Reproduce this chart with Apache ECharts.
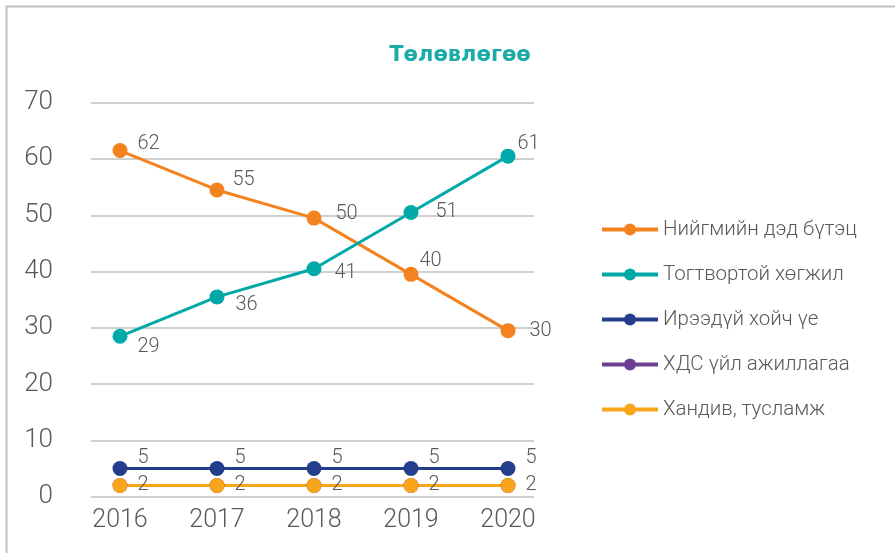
<!DOCTYPE html>
<html>
<head>
<meta charset="utf-8">
<script src="https://cdn.jsdelivr.net/npm/echarts@6/dist/echarts.min.js"></script>
<style>
  html, body { margin: 0; padding: 0; background: #fff; }
  #chart { width: 895px; height: 553px; }
</style>
</head>
<body>
<div id="chart"></div>
<script>
	// өгөгдөл
	var years = ['2016', '2017', '2018', '2019', '2020'];
	var yTicks = [0, 10, 20, 30, 40, 50, 60, 70];
	var seriesNames = ['Нийгмийн дэд бүтэц', 'Тогтвортой хөгжил', 'Ирээдүй хойч үе', 'ХДС үйл ажиллагаа', 'Хандив, тусламж'];
	var niigem = [61.5, 54.5, 49.5, 39.5, 29.5];
	var togtvortoi = [28.5, 35.5, 40.5, 50.5, 60.5];
	var ireedui = [5, 5, 5, 5, 5];
	var hds = [2, 2, 2, 2, 2];
	var handiv = [2, 2, 2, 2, 2];

	var colors = ['#F4821F', '#00A9A8', '#243E8C', '#6B3F91', '#F9A51B'];

	// шошгын байрлал (label offsets)
	var offNiigem = [[5, -7], [3, -10], [9, -4], [-4, -13], [9, 0]];
	var offTogt = [[5, 11], [6, 8], [8, 4], [12, 0], [-3, -12]];
	var offIreedui = [[5, -11], [5, -11], [5, -11], [5, -11], [5, -11]];
	var offHandiv = [[5, 0], [5, 0], [5, 0], [5, 0], [5, 0]];

	function withLabels(values, offsets) {
		var arr = [];
		for (var i = 0; i < values.length; i++) {
			arr.push({
				value: values[i],
				label: { offset: offsets ? offsets[i] : [0, 0] }
			});
		}
		return arr;
	}

	function makeSeries(idx, values, offsets, showLabel) {
		return {
			name: seriesNames[idx],
			type: 'line',
			xAxisIndex: 0,
			yAxisIndex: 0,
			data: withLabels(values, offsets),
			symbol: 'circle',
			symbolSize: 15,
			color: colors[idx],
			lineStyle: { width: 3, color: colors[idx] },
			itemStyle: { color: colors[idx] },
			label: {
				show: showLabel,
				position: 'right',
				distance: 5,
				fontSize: 20,
				fontFamily: 'Roboto',
				fontWeight: 300,
				color: '#595959',
				formatter: function (p) { return Math.round(p.value); }
			},
			emphasis: { disabled: true },
			animation: false
		};
	}

	var chart = echarts.init(document.getElementById('chart'));
	var yMin = yTicks[0];
	var yMax = yTicks[yTicks.length - 1];

	var option = {
		animation: false,
		title: {
			text: 'Төлөвлөгөө',
			left: 455,
			top: 40,
			textAlign: 'center',
			textStyle: {
				color: '#1AABAA',
				fontSize: 21,
				fontWeight: 'bold',
				fontFamily: 'DejaVu Sans'
			}
		},
		legend: {
			orient: 'vertical',
			left: 600,
			top: 219,
			padding: 0,
			itemWidth: 56,
			itemHeight: 15,
			itemGap: 24,
			data: seriesNames,
			lineStyle: { width: 4 },
			textStyle: {
				fontSize: 20.5,
				fontFamily: 'Roboto',
				fontWeight: 300,
				color: '#595959'
			}
		},
		grid: [
			{ left: 71.5, top: 102.7, width: 485, height: 394 },
			{ left: 91, top: 102.7, width: 443, height: 394 }
		],
		xAxis: [
			{
				type: 'category',
				gridIndex: 0,
				data: years,
				boundaryGap: true,
				axisLine: { show: false },
				axisTick: { show: false },
				axisLabel: {
					margin: 12,
					fontSize: 25,
					fontFamily: 'Roboto',
					fontWeight: 300,
					color: '#595959'
				}
			},
			{
				type: 'category',
				gridIndex: 1,
				data: years,
				show: false
			}
		],
		yAxis: [
			{
				type: 'value',
				gridIndex: 0,
				min: yMin,
				max: yMax,
				interval: 10,
				show: false,
				splitLine: { show: false }
			},
			{
				type: 'value',
				gridIndex: 1,
				min: yMin,
				max: yMax,
				interval: 10,
				axisLine: { show: false },
				axisTick: { show: false },
				axisLabel: {
					margin: 38,
					fontSize: 26,
					fontFamily: 'Roboto',
					fontWeight: 300,
					color: '#595959'
				},
				splitLine: {
					show: true,
					lineStyle: { color: '#BFBFBF', width: 1.5 }
				}
			}
		],
		graphic: [
			{
				type: 'polyline',
				shape: { points: [[6.5, 553], [6.5, 6.5], [895, 6.5]] },
				style: { stroke: '#BFBFBF', lineWidth: 2, fill: null },
				silent: true
			}
		],
		series: [
			makeSeries(0, niigem, offNiigem, true),
			makeSeries(1, togtvortoi, offTogt, true),
			makeSeries(2, ireedui, offIreedui, true),
			makeSeries(3, hds, null, false),
			makeSeries(4, handiv, offHandiv, true)
		]
	};

	chart.setOption(option);
</script>
</body>
</html>
